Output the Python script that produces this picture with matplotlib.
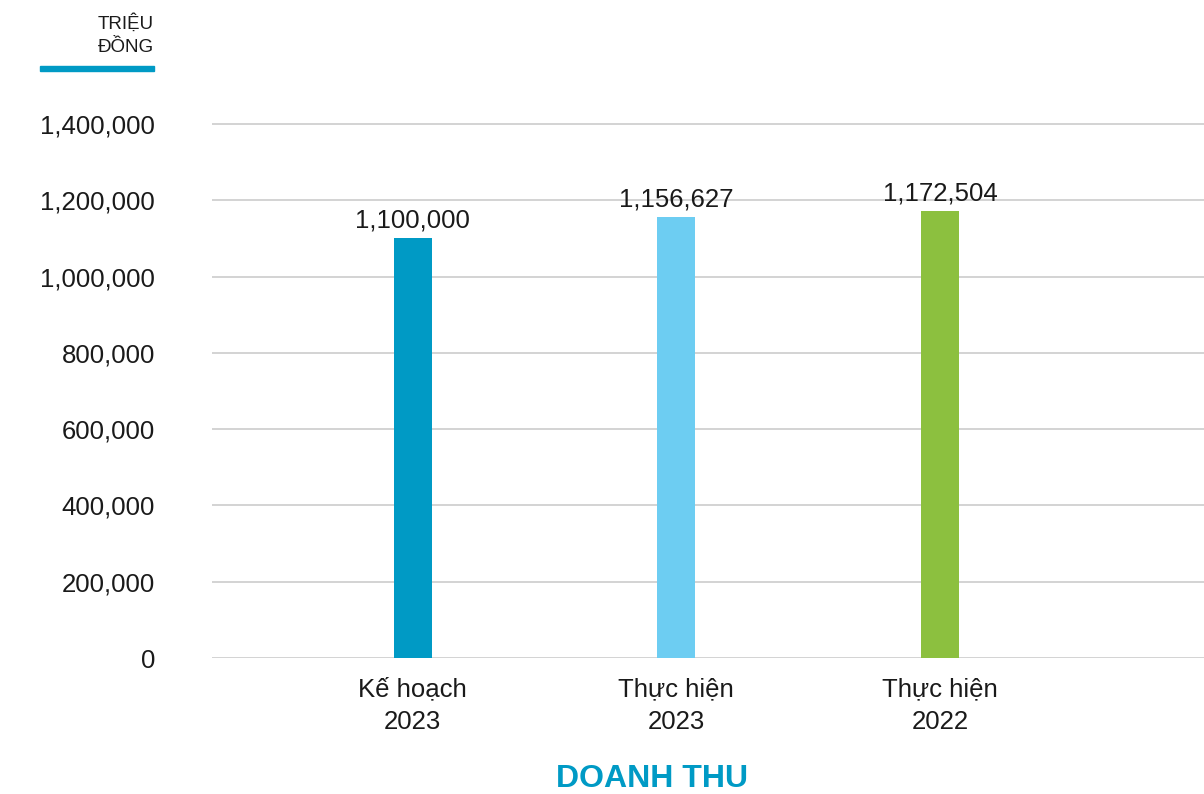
import matplotlib
matplotlib.use('Agg')
import matplotlib.pyplot as plt
from matplotlib.patches import Rectangle

plt.rcParams['font.family'] = ['Liberation Sans', 'DejaVu Sans']

categories = ['Kế hoạch\n2023', 'Thực hiện\n2023', 'Thực hiện\n2022']
values = [1100000, 1156627, 1172504]
value_labels = ['1,100,000', '1,156,627', '1,172,504']
colors = ['#009ac5', '#6dcdf2', '#8cc03f']
yticks = [0, 200000, 400000, 600000, 800000, 1000000, 1200000, 1400000]

W, H = 1204, 794
fig = plt.figure(figsize=(W / 100, H / 100), dpi=100)

# axes placed in pixels: zero line at y=658, 1,400,000 at y=124
ax_left, ax_bottom, ax_top = 212, 658, 100
ax = fig.add_axes([ax_left / W, (H - ax_bottom) / H, 1 - ax_left / W, (ax_bottom - ax_top) / H])
ymax = (ax_bottom - ax_top) / (ax_bottom - 124) * 1400000

x = range(len(categories))
ax.bar(x, values, width=0.144, color=colors, zorder=3)
for i, v in enumerate(values):
	ax.annotate(value_labels[i], (i, v), xytext=(0, 4), textcoords='offset points',
		ha='center', va='bottom', fontsize=18.5, color='#1a1a1a')

ax.set_xlim(-0.76, 3.0)
ax.set_ylim(0, ymax)
ax.set_yticks(yticks)
ax.set_yticklabels(['{:,}'.format(t) for t in yticks])
ax.set_xticks(list(x))
ax.set_xticklabels(categories, linespacing=1.45)
ax.tick_params(axis='y', length=0, pad=41, labelsize=18.5, labelcolor='#1a1a1a')
ax.tick_params(axis='x', length=0, pad=14, labelsize=18.5, labelcolor='#1a1a1a')
ax.grid(axis='y', color='#c8c8c8', lw=1.1, zorder=0)
for s in ax.spines.values():
	s.set_visible(False)

# unit label with the blue underline
fig.text(154 / W, 1 - 23 / H, 'TRIỆU', ha='right', va='center', fontsize=13.5, color='#1a1a1a')
fig.text(154 / W, 1 - 48 / H, 'ĐỒNG', ha='right', va='center', fontsize=13.5, color='#1a1a1a')
fig.patches.append(Rectangle((40 / W, 1 - 71 / H), 114 / W, 5 / H, transform=fig.transFigure,
	color='#009ac5', figure=fig))

fig.text(652 / W, 15 / H, 'DOANH THU', ha='center', va='center', fontsize=23,
	fontweight='bold', color='#009ac5')

fig.savefig('out.png', dpi=100)
